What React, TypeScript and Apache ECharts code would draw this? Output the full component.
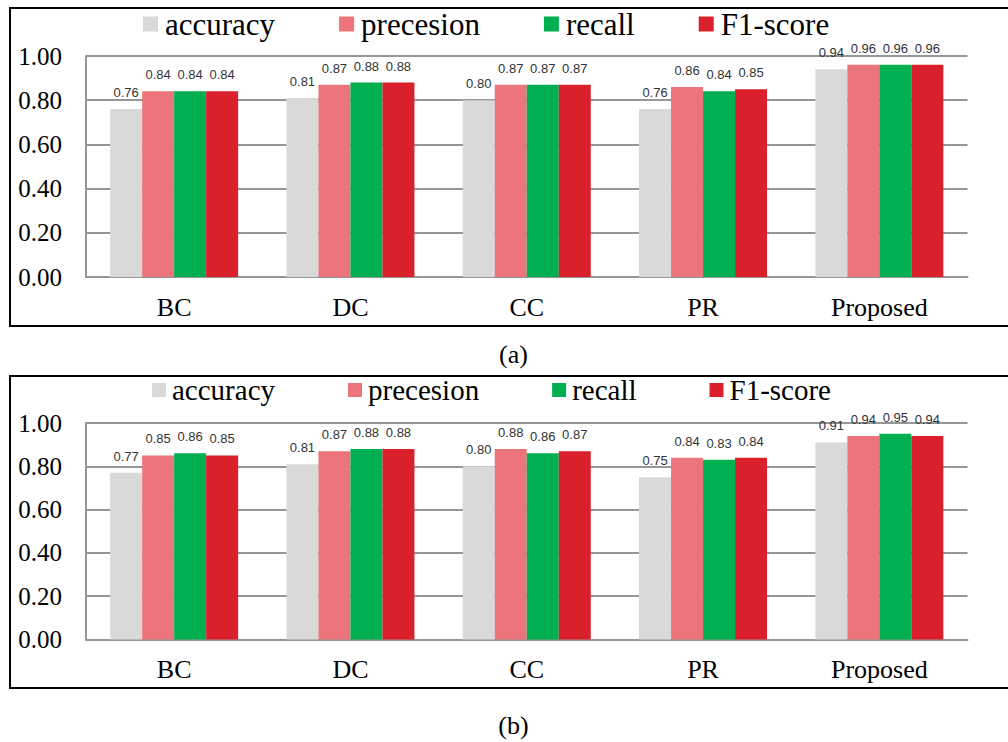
import React, { useEffect, useRef } from "react";
import * as echarts from "echarts";

// Methods compared
const categories = ["BC", "DC", "CC", "PR", "Proposed"];
const metricNames = ["accuracy", "precesion", "recall", "F1-score"];
const metricColors = ["#d9d9d9", "#ec757b", "#00b050", "#da202b"];
const yTicks = [0, 0.2, 0.4, 0.6, 0.8, 1.0];

// Panel (a)
const accuracyA = [0.76, 0.81, 0.8, 0.76, 0.94];
const precisionA = [0.84, 0.87, 0.87, 0.86, 0.96];
const recallA = [0.84, 0.88, 0.87, 0.84, 0.96];
const f1A = [0.84, 0.88, 0.87, 0.85, 0.96];

// Panel (b)
const accuracyB = [0.77, 0.81, 0.8, 0.75, 0.91];
const precisionB = [0.85, 0.87, 0.88, 0.84, 0.94];
const recallB = [0.86, 0.88, 0.86, 0.83, 0.95];
const f1B = [0.85, 0.88, 0.87, 0.84, 0.94];

const panelCaptions = ["(a)", "(b)"];

const SERIF = "'Liberation Serif', 'Times New Roman', serif";
const SANS = "'Liberation Sans', Arial, sans-serif";
const GRID_GRAY = "#969696";

function makeSeries(values: number[][], axisIndex: number) {
  return values.map((data, i) => ({
    type: "bar",
    name: metricNames[i],
    xAxisIndex: axisIndex,
    yAxisIndex: axisIndex,
    data,
    barWidth: 32,
    barGap: "0%",
    itemStyle: { color: metricColors[i] },
    label: {
      show: true,
      position: "top",
      distance: 10,
      fontFamily: SANS,
      fontSize: 13,
      color: "#333333",
      formatter: (p: any) => Number(p.value).toFixed(2),
    },
  }));
}

function makeXAxis(gridIndex: number) {
  return {
    type: "category",
    gridIndex,
    data: categories,
    axisLine: { show: true, lineStyle: { color: GRID_GRAY, width: 2 } },
    axisTick: { show: false },
    axisLabel: {
      margin: 17,
      fontFamily: SERIF,
      fontSize: 26,
      color: "#000000",
    },
  };
}

function makeYAxis(gridIndex: number) {
  return {
    type: "value",
    gridIndex,
    min: yTicks[0],
    max: yTicks[yTicks.length - 1],
    interval: 0.2,
    axisLine: { show: true, lineStyle: { color: GRID_GRAY, width: 2 } },
    axisTick: { show: false },
    splitLine: { show: true, lineStyle: { color: GRID_GRAY, width: 2 } },
    axisLabel: {
      margin: 24,
      fontFamily: SERIF,
      fontSize: 25,
      color: "#000000",
      formatter: (v: number) => v.toFixed(2),
    },
  };
}

export default function App() {
  const ref = useRef<HTMLDivElement>(null);

  useEffect(() => {
    if (!ref.current) return;
    const chart = echarts.init(ref.current, null, { renderer: "svg" });

    const option: any = {
      animation: false,
      backgroundColor: "#ffffff",
      grid: [
        { left: 86, right: 40.5, top: 56, bottom: 465 },
        { left: 86, right: 40.5, top: 423, bottom: 102.5 },
      ],
      legend: [
        {
          data: metricNames,
          left: 138,
          top: 3,
          icon: "rect",
          itemWidth: 15,
          itemHeight: 15,
          itemGap: 64,
          selectedMode: false,
          textStyle: {
            fontFamily: SERIF,
            fontSize: 31,
            lineHeight: 32,
            color: "#000000",
            padding: [0, 0, 0, 2],
          },
        },
        {
          data: metricNames,
          left: 147,
          top: 370,
          icon: "rect",
          itemWidth: 14,
          itemHeight: 14,
          itemGap: 73,
          selectedMode: false,
          textStyle: {
            fontFamily: SERIF,
            fontSize: 29,
            lineHeight: 30,
            color: "#000000",
            padding: [0, 0, 0, 1],
          },
        },
      ],
      xAxis: [makeXAxis(0), makeXAxis(1)],
      yAxis: [makeYAxis(0), makeYAxis(1)],
      series: [
        ...makeSeries([accuracyA, precisionA, recallA, f1A], 0),
        ...makeSeries([accuracyB, precisionB, recallB, f1B], 1),
      ],
      graphic: [
        {
          type: "rect",
          shape: { x: 10, y: 8, width: 1010, height: 318 },
          style: { fill: "none", stroke: "#000000", lineWidth: 2 },
          silent: true,
        },
        {
          type: "rect",
          shape: { x: 10, y: 376, width: 1010, height: 312 },
          style: { fill: "none", stroke: "#000000", lineWidth: 2 },
          silent: true,
        },
        {
          type: "text",
          x: 513.5,
          y: 354,
          style: {
            text: panelCaptions[0],
            fontFamily: SERIF,
            fontSize: 26,
            fill: "#000000",
            align: "center",
            verticalAlign: "middle",
          },
        },
        {
          type: "text",
          x: 513.5,
          y: 725,
          style: {
            text: panelCaptions[1],
            fontFamily: SERIF,
            fontSize: 26,
            fill: "#000000",
            align: "center",
            verticalAlign: "middle",
          },
        },
      ],
    };

    chart.setOption(option);
    return () => chart.dispose();
  }, []);

  return (
    <div
      ref={ref}
      style={{ position: "absolute", left: 0, top: 0, width: 1008, height: 742 }}
    />
  );
}
